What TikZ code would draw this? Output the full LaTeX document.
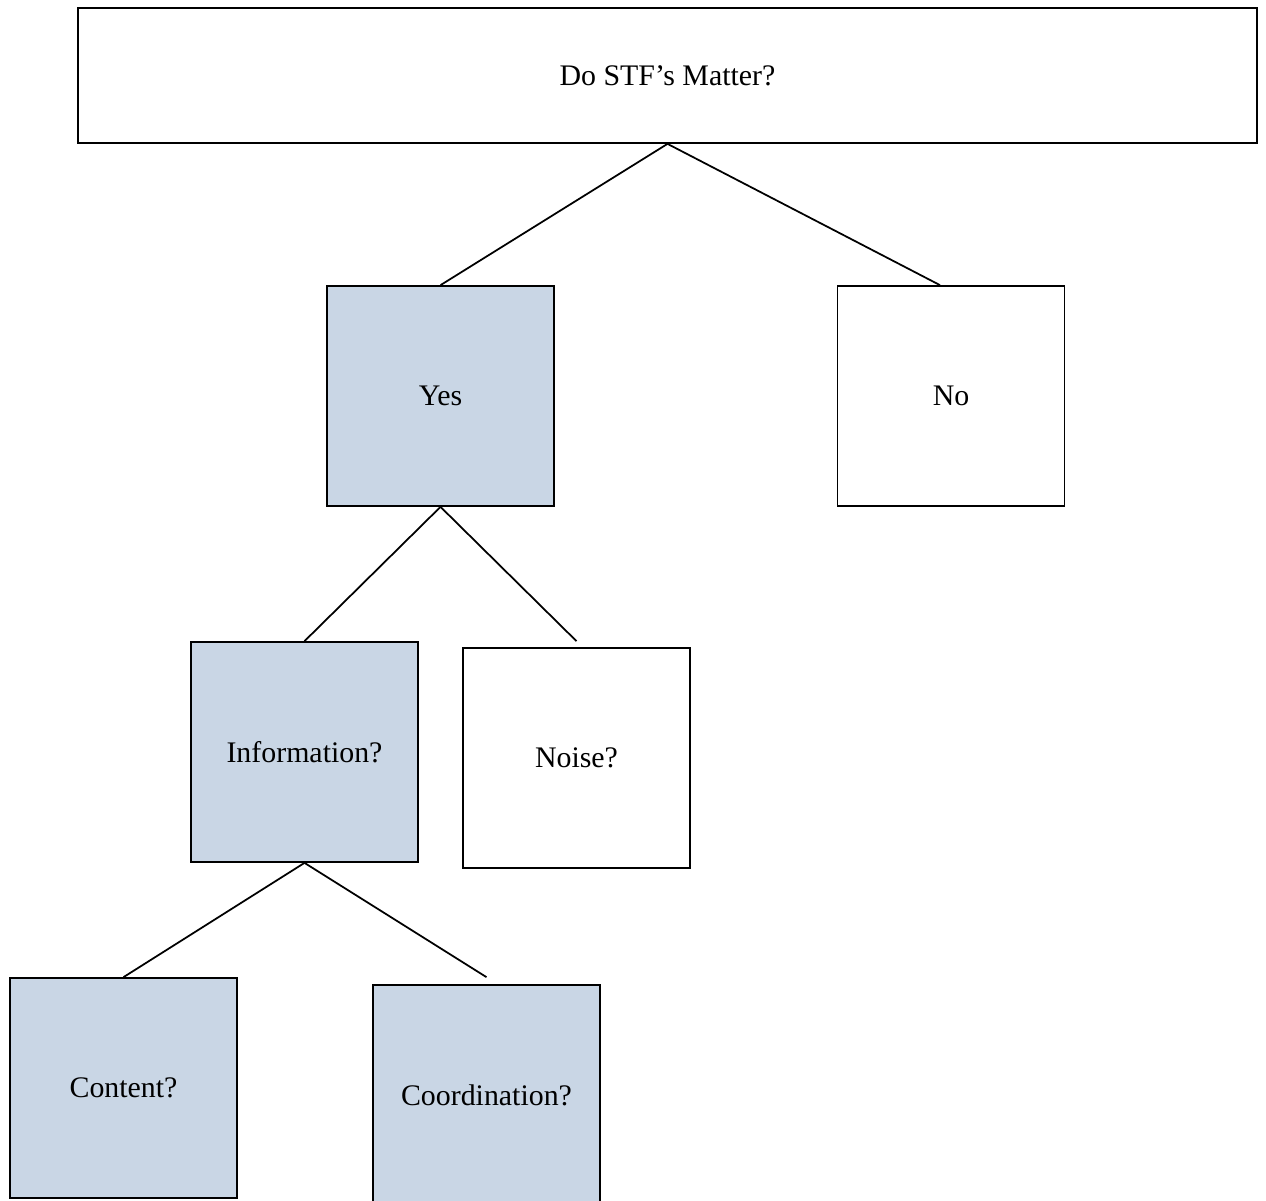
\documentclass[tikz,border=0pt]{standalone}
\usepackage{fontspec}
\setmainfont{Liberation Serif}
\usetikzlibrary{calc}
\definecolor{boxblue}{RGB}{201,214,229}
\begin{document}
\begin{tikzpicture}[x=0.02cm,y=-0.02cm,
  box/.style={draw=black,line width=1pt,minimum width=4.54cm,minimum height=4.4cm,inner sep=0pt,font=\fontsize{17}{20}\selectfont},
  bluebox/.style={box,fill=boxblue},
  link/.style={line width=1pt}]
\clip (0,0) rectangle (1266,1200);
\fill[white] (0,0) rectangle (1266,1200);
\node[draw=black,line width=1pt,minimum width=23.58cm,minimum height=2.7cm,inner sep=0pt,font=\fontsize{17}{20}\selectfont] (top) at (667.5,75.5) {Do STF’s Matter?};
\node[bluebox] (yes) at (440.5,396) {Yes};
\node[box] (no) at (951,396) {No};
\node[bluebox] (info) at (304.5,752) {Information?};
\node[box] (noise) at (576.5,758) {Noise?};
\node[bluebox] (content) at (123.5,1088) {Content?};
\node[bluebox] (coord) at (486.5,1095) {Coordination?};
\coordinate (noend) at ($(no.north)+(-11,0)$);
\coordinate (noiseend) at ($(noise.north)+(0,-6)$);
\coordinate (coordend) at ($(coord.north)+(0,-7)$);
\draw[link] (top.south) -- (yes.north);
\draw[link] (top.south) -- (noend);
\draw[link] (yes.south) -- (info.north);
\draw[link] (yes.south) -- (noiseend);
\draw[link] (info.south) -- (content.north);
\draw[link] (info.south) -- (coordend);
\end{tikzpicture}
\end{document}
